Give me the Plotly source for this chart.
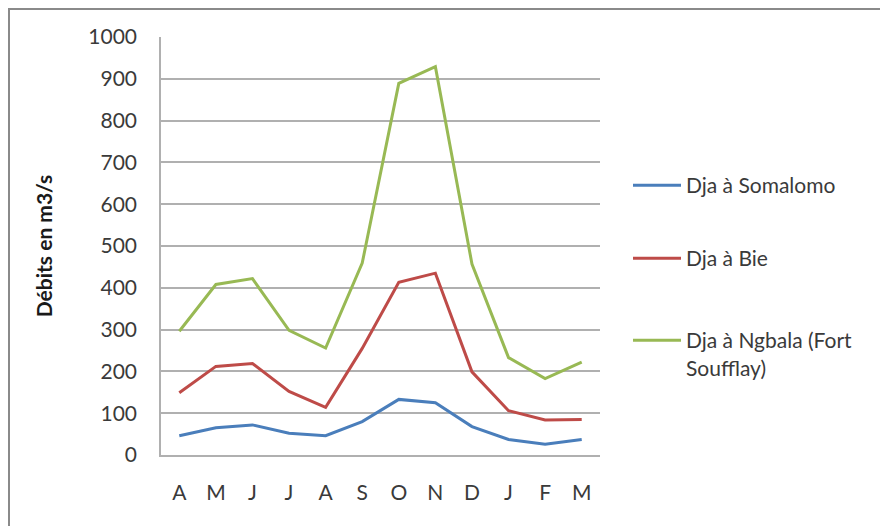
import plotly.graph_objects as go

# Monthly mean discharge of the Dja river at three gauging stations (hydrological year April -> March)
months = ["A", "M", "J", "J", "A", "S", "O", "N", "D", "J", "F", "M"]
somalomo = [46, 65, 72, 52, 46, 80, 133, 125, 68, 37, 26, 37]
bie = [149, 212, 219, 152, 114, 255, 413, 435, 199, 106, 84, 85]
ngbala = [296, 408, 422, 298, 256, 459, 889, 929, 457, 233, 183, 222]

W, H = 880, 526
L, R, T, B = 161, 280, 37, 71
pw, ph = W - L - R, H - T - B

font_fam = "Lato, 'Open Sans', sans-serif"
fs = 21
grid_col = "#b0b0b0"

def px_x(p):
    return (p - L) / pw

def px_y(p):
    return 1 - (p - T) / ph

# one legend per series so each entry can sit at its own height
series = [
    ("Dja à Somalomo", somalomo, "#4A7EBB", "legend", 185),
    ("Dja à Bie", bie, "#BE4B48", "legend2", 258),
    ("Dja à Ngbala (Fort<br>Soufflay)", ngbala, "#98B954", "legend3", 340),
]

x_idx = list(range(len(months)))

fig = go.Figure()
legends = {}
for name, vals, color, leg, ypix in series:
    fig.add_trace(go.Scatter(
        x=x_idx, y=vals, name=name, mode="lines",
        line=dict(color=color, width=3),
        legend=leg,
    ))
    legends[leg] = dict(
        x=px_x(628), y=px_y(ypix - 20), xanchor="left", yanchor="top",
        valign="top", itemwidth=48,
        font=dict(family=font_fam, size=fs, color="#3a3a3a"),
        bgcolor="rgba(0,0,0,0)",
    )

fig.update_layout(
    width=W, height=H,
    margin=dict(l=L, r=R, t=T, b=B, autoexpand=False),
    paper_bgcolor="white", plot_bgcolor="white",
    font=dict(family=font_fam, size=fs, color="#3a3a3a"),
    showlegend=True,
    legend=legends["legend"], legend2=legends["legend2"], legend3=legends["legend3"],
    xaxis=dict(
        tickmode="array", tickvals=x_idx, ticktext=months,
        range=[-0.5, len(months) - 0.5],
        showgrid=False, zeroline=False,
        showline=True, linecolor=grid_col, linewidth=1.5,
        ticks="", ticklabelstandoff=18,
    ),
    yaxis=dict(
        range=[0, 1000], dtick=100, tick0=0,
        showgrid=True, gridcolor=grid_col, gridwidth=1.5,
        zeroline=False,
        showline=True, linecolor=grid_col, linewidth=1.5,
        ticks="", ticklabelstandoff=18,
        title=dict(text="<b>Débits en m3/s</b>", font=dict(size=fs, color="#1a1a1a"), standoff=30),
    ),
    shapes=[
        # outer chart frame (top and left edges visible; extends past the page)
        dict(type="rect", xref="paper", yref="paper",
             x0=px_x(9), x1=px_x(W + 20),
             y0=px_y(H + 20), y1=px_y(9),
             line=dict(color="#8a8a8a", width=2), layer="below"),
    ],
)

fig.write_html("out.html")
